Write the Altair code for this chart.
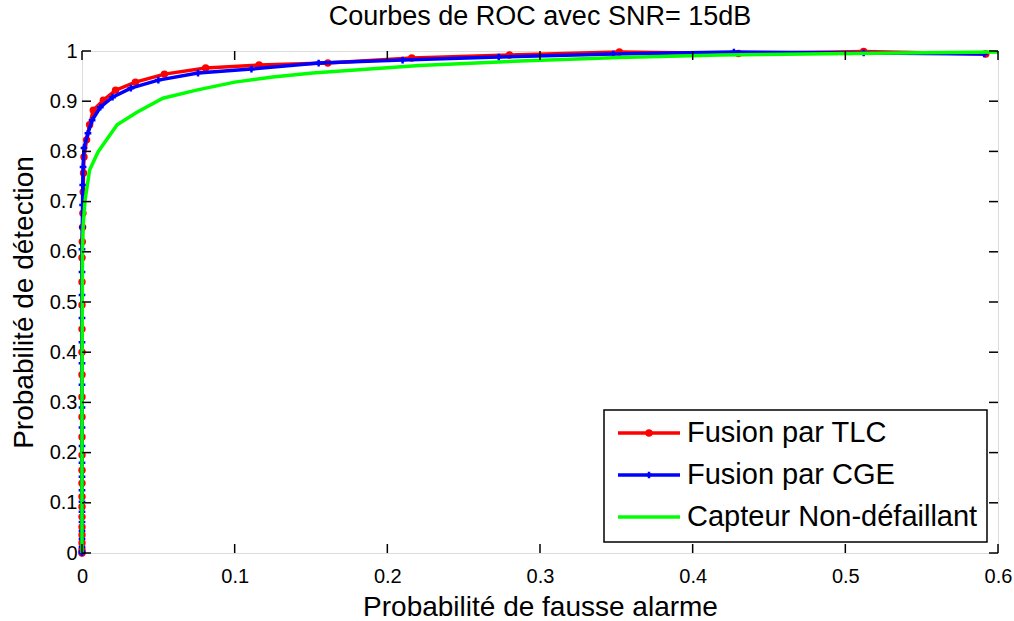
import altair as alt
import pandas as pd

# ---------------- data ----------------
tlc_x = [0, 0, 0, 0, 0, 0, 0, 0, 0, 0, 0, 0, 0, 0, 0, 0, 0, 0, 0, 0,
         0.0002, 0.0004, 0.0006, 0.0008, 0.001, 0.0013, 0.003, 0.005, 0.0074, 0.014,
         0.022, 0.035, 0.054, 0.081, 0.116, 0.161, 0.216, 0.28, 0.352, 0.43, 0.512, 0.592]
tlc_y = [0, 0.006, 0.020, 0.036, 0.052, 0.072, 0.092, 0.112, 0.139, 0.165,
         0.195, 0.231, 0.271, 0.311, 0.355, 0.400, 0.446, 0.494, 0.540, 0.588,
         0.620, 0.649, 0.677, 0.719, 0.757, 0.789, 0.823, 0.853, 0.882, 0.902,
         0.922, 0.938, 0.954, 0.966, 0.972, 0.976, 0.986, 0.992, 0.998, 0.995, 0.999, 0.994]

cge_x = [0, 0, 0, 0, 0, 0, 0, 0, 0, 0, 0, 0, 0, 0, 0, 0, 0, 0, 0, 0, 0,
         0.0002, 0.0004, 0.0005, 0.0007, 0.0013, 0.0039, 0.0066, 0.012, 0.020,
         0.032, 0.050, 0.076, 0.111, 0.155, 0.210, 0.273, 0.348, 0.427, 0.512, 0.591]
cge_y = [0, 0.003, 0.012, 0.028, 0.044, 0.062, 0.082, 0.102, 0.125, 0.152,
         0.180, 0.213, 0.250, 0.290, 0.335, 0.378, 0.420, 0.468, 0.514, 0.560,
         0.605, 0.649, 0.693, 0.733, 0.769, 0.807, 0.836, 0.862, 0.888, 0.908,
         0.926, 0.942, 0.956, 0.964, 0.976, 0.982, 0.988, 0.994, 0.998, 0.996, 0.994]

cap_x = [0, 0, 0.0003, 0.0007, 0.002, 0.005, 0.0105, 0.023, 0.036, 0.053,
         0.075, 0.10, 0.125, 0.151, 0.221, 0.287, 0.352, 0.418, 0.503, 0.6]
cap_y = [0, 0.3, 0.6, 0.649, 0.703, 0.763, 0.799, 0.853, 0.878, 0.906,
         0.922, 0.938, 0.948, 0.956, 0.971, 0.980, 0.987, 0.992, 0.995, 0.998]

series_names = ["Fusion par TLC", "Fusion par CGE", "Capteur Non-défaillant"]
series_colors = ["#FF0000", "#0000FF", "#00FF00"]

x_ticks = [0, 0.1, 0.2, 0.3, 0.4, 0.5, 0.6]
y_ticks = [0, 0.1, 0.2, 0.3, 0.4, 0.5, 0.6, 0.7, 0.8, 0.9, 1]

title_text = "Courbes de ROC avec SNR= 15dB"
x_title = "Probabilité de fausse alarme"
y_title = "Probabilité de détection"

# ---------------- build ----------------
FONT = "Liberation Sans"
W, H = 916, 502


def frame(xs, ys):
    return pd.DataFrame({"x": xs, "y": ys, "i": list(range(len(xs)))})


df_tlc = frame(tlc_x, tlc_y)
df_cge = frame(cge_x, cge_y)
df_cap = frame(cap_x, cap_y)

xscale = alt.Scale(domain=[0, 0.6], nice=False, zero=False)
yscale = alt.Scale(domain=[0, 1], nice=False, zero=False)

xaxis = alt.Axis(values=x_ticks, format="~g", tickSize=0, domain=False, grid=False,
                 labelFlush=False, labelOverlap=False,
                 labelFont=FONT, labelFontSize=20, labelColor="black",
                 labelBaseline="alphabetic", labelPadding=29,
                 title=x_title, titleFont=FONT, titleFontSize=28, titleFontWeight="normal",
                 titleColor="black", titleBaseline="alphabetic", titleY=62, titleX=W / 2)
yaxis = alt.Axis(values=y_ticks, format="~g", tickSize=0, domain=False, grid=False,
                 labelFlush=False, labelOverlap=False,
                 labelFont=FONT, labelFontSize=20, labelColor="black", labelPadding=5,
                 title=y_title, titleFont=FONT, titleFontSize=28, titleFontWeight="normal",
                 titleColor="black", titleBaseline="alphabetic", titleX=-50, titleY=H / 2)


def X():
    return alt.X("x:Q", scale=xscale, axis=xaxis, title=x_title)


def Y():
    return alt.Y("y:Q", scale=yscale, axis=yaxis, title=y_title)


red_line = alt.Chart(df_tlc).mark_line(color=series_colors[0], strokeWidth=3.5).encode(
    x=X(), y=Y(), order="i:Q")
red_pts = alt.Chart(df_tlc).mark_point(color=series_colors[0], filled=True, size=55, opacity=1,
                                       shape="circle").encode(x=X(), y=Y())
blue_line = alt.Chart(df_cge).mark_line(color=series_colors[1], strokeWidth=3.5).encode(
    x=X(), y=Y(), order="i:Q")
plus_path = "M-1,0H1M0,-1V1"
blue_pts = alt.Chart(df_cge).mark_point(color=series_colors[1], filled=False, size=45, opacity=1,
                                        strokeWidth=2.5, shape=plus_path).encode(x=X(), y=Y())
green_line = alt.Chart(df_cap).mark_line(color=series_colors[2], strokeWidth=3.5).encode(
    x=X(), y=Y(), order="i:Q")

# inward ticks on all four sides
dfxt = pd.DataFrame({"x": x_ticks})
dfyt = pd.DataFrame({"y": y_ticks})
TL = 9
tick_b = alt.Chart(dfxt).mark_rule(color="black", strokeWidth=1.5).encode(
    x=X(), y=alt.value(H), y2=alt.value(H - TL))
tick_t = alt.Chart(dfxt).mark_rule(color="black", strokeWidth=1.5).encode(
    x=X(), y=alt.value(0), y2=alt.value(TL))
tick_l = alt.Chart(dfyt).mark_rule(color="black", strokeWidth=1.5).encode(
    y=Y(), x=alt.value(0), x2=alt.value(TL))
tick_r = alt.Chart(dfyt).mark_rule(color="black", strokeWidth=1.5).encode(
    y=Y(), x=alt.value(W), x2=alt.value(W - TL))

# legend box (manual, MATLAB style)
one = pd.DataFrame({"k": [0]})
LX0, LX1, LY0, LY1 = 522, 905, 359, 491
legend_layers = [
    alt.Chart(one).mark_rect(fill="white", stroke="black", strokeWidth=1.5).encode(
        x=alt.value(LX0), x2=alt.value(LX1), y=alt.value(LY0), y2=alt.value(LY1))
]
rows = [382, 424, 466]
for k, (name, col) in enumerate(zip(series_names, series_colors)):
    ry = rows[k]
    legend_layers.append(alt.Chart(one).mark_rule(color=col, strokeWidth=3.5).encode(
        x=alt.value(536), x2=alt.value(598), y=alt.value(ry)))
    if k == 0:
        legend_layers.append(alt.Chart(one).mark_point(color=col, filled=True, size=55, opacity=1).encode(
            x=alt.value(567), y=alt.value(ry)))
    elif k == 1:
        legend_layers.append(alt.Chart(one).mark_point(color=col, filled=False, size=45, opacity=1,
                                                       strokeWidth=2.5, shape=plus_path).encode(
            x=alt.value(567), y=alt.value(ry)))
    legend_layers.append(alt.Chart(one).mark_text(font=FONT, fontSize=29, align="left",
                                                  baseline="middle", color="black").encode(
        x=alt.value(605), y=alt.value(ry), text=alt.value(name)))

chart = alt.layer(
    red_line, red_pts, blue_line, blue_pts, green_line,
    tick_b, tick_t, tick_l, tick_r, *legend_layers
).properties(
    width=W, height=H,
    title=alt.TitleParams(title_text, font=FONT, fontSize=27, fontWeight="normal", color="black",
                          anchor="middle", frame="group", offset=10),
    autosize=alt.AutoSizeParams(type="none"),
    padding={"left": 82, "top": 51, "right": 16, "bottom": 68},
).configure_view(stroke="black", strokeWidth=2).configure(background="white")

chart.save("out.html", embed_options={"renderer": "svg", "actions": False})
